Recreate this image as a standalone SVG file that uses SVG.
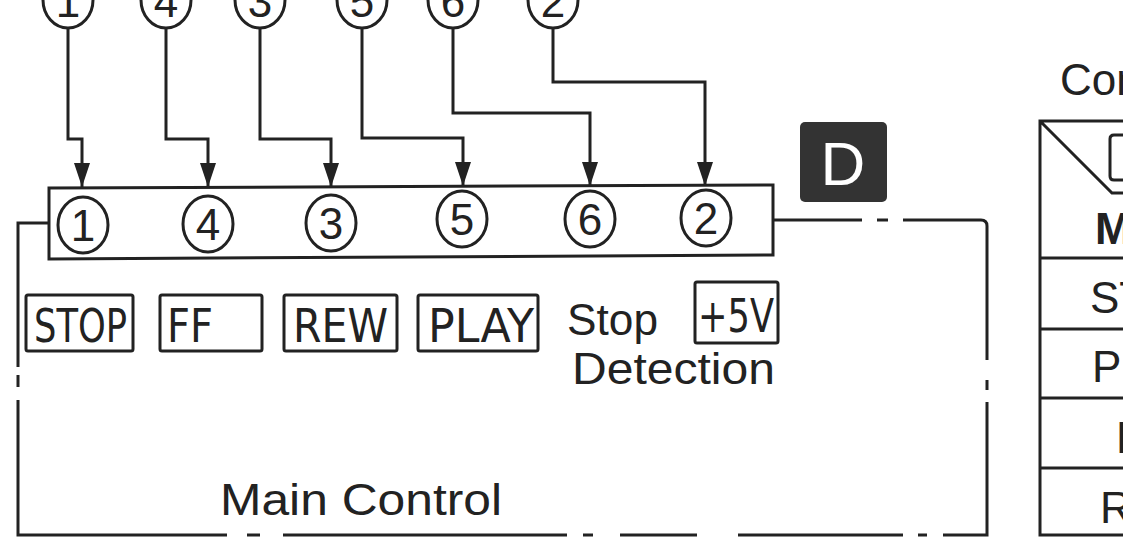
<svg xmlns="http://www.w3.org/2000/svg" width="1123" height="540" viewBox="0 0 1123 540">
<style>
.ln{fill:none;stroke:#222;stroke-width:3;stroke-linecap:butt;stroke-linejoin:miter}
.bx{fill:none;stroke:#222;stroke-width:3}
.cir{fill:#fff;stroke:#222;stroke-width:3}
.dg{font-family:"Liberation Sans",Arial,sans-serif;font-size:44px;fill:#222;text-anchor:middle}
.btn{font-family:"DejaVu Sans Condensed","Liberation Sans",sans-serif;font-size:46px;fill:#222}
.lbl{font-family:"Liberation Sans",Arial,sans-serif;font-size:44px;fill:#222}
</style>
<defs>
<marker id="ah" viewBox="0 0 24 16" refX="24" refY="8" markerWidth="24" markerHeight="16" markerUnits="userSpaceOnUse" orient="auto">
<path d="M0,0 L24,8 L0,16 z" fill="#222"/>
</marker>
</defs>
<rect width="1123" height="540" fill="#fff"/>

<g id="top-terminals">
<ellipse class="cir" cx="68" cy="0" rx="25" ry="28"/><text class="dg" x="68" y="17">1</text>
<ellipse class="cir" cx="166" cy="0" rx="25" ry="28"/><text class="dg" x="166" y="17">4</text>
<ellipse class="cir" cx="260" cy="0" rx="25" ry="28"/><text class="dg" x="260" y="17">3</text>
<ellipse class="cir" cx="362" cy="0" rx="25" ry="28"/><text class="dg" x="362" y="17">5</text>
<ellipse class="cir" cx="453" cy="0" rx="25" ry="28"/><text class="dg" x="453" y="17">6</text>
<ellipse class="cir" cx="553" cy="0" rx="25" ry="28"/><text class="dg" x="553" y="17">2</text>
</g>

<g id="connectors">
<path class="ln" d="M68,28 V139 H82 V187" marker-end="url(#ah)"/>
<path class="ln" d="M166,28 V139 H208 V187" marker-end="url(#ah)"/>
<path class="ln" d="M260,28 V139 H331 V187" marker-end="url(#ah)"/>
<path class="ln" d="M362,28 V138 H463 V186" marker-end="url(#ah)"/>
<path class="ln" d="M453,28 V113 H590 V186" marker-end="url(#ah)"/>
<path class="ln" d="M553,28 V82 H705 V186" marker-end="url(#ah)"/>
</g>

<g id="connector-block">
<polygon class="bx" points="49,188 773,185 773,255 49,259"/>
<ellipse class="cir" cx="83" cy="225" rx="25" ry="28"/><text class="dg" x="83" y="241">1</text>
<ellipse class="cir" cx="208" cy="224" rx="25" ry="28"/><text class="dg" x="208" y="240">4</text>
<ellipse class="cir" cx="331" cy="223" rx="25" ry="28"/><text class="dg" x="331" y="239">3</text>
<ellipse class="cir" cx="462" cy="219" rx="25" ry="28"/><text class="dg" x="462" y="235">5</text>
<ellipse class="cir" cx="590" cy="219" rx="25" ry="28"/><text class="dg" x="590" y="235">6</text>
<ellipse class="cir" cx="706" cy="218" rx="25" ry="28"/><text class="dg" x="706" y="234">2</text>
</g>

<g id="main-control">
<path class="ln" d="M49,223 H18 V367 M18,375 V387 M18,400 V535 H227 M247,535 H260 M283,535 H567 M583,535 H593 M620,535 H697 M738,535 H903 M918,535 H927 M943,535 H987 V402 M987,390 V380 M987,360 V226 Q987,220 981,220 H903 M888,220 H877 M862,220 H773"/>
<text class="lbl" x="220" y="515" textLength="282" lengthAdjust="spacingAndGlyphs">Main Control</text>
</g>

<g id="btn-stop"><rect class="bx" x="26" y="295" width="107" height="56" rx="2"/><text class="btn" x="34" y="342" textLength="93" lengthAdjust="spacingAndGlyphs">STOP</text></g>
<g id="btn-ff"><rect class="bx" x="160" y="295" width="102" height="56" rx="2"/><text class="btn" x="167" y="342" textLength="46" lengthAdjust="spacingAndGlyphs">FF</text></g>
<g id="btn-rew"><rect class="bx" x="284" y="295" width="113" height="56" rx="2"/><text class="btn" x="293" y="342" textLength="95" lengthAdjust="spacingAndGlyphs">REW</text></g>
<g id="btn-play"><rect class="bx" x="418" y="295" width="120" height="56" rx="2"/><text class="btn" x="428" y="342" textLength="106" lengthAdjust="spacingAndGlyphs">PLAY</text></g>
<g id="stop-detection">
<text class="lbl" x="567" y="335" textLength="91" lengthAdjust="spacingAndGlyphs">Stop</text>
<text class="lbl" x="572" y="384" textLength="203" lengthAdjust="spacingAndGlyphs">Detection</text>
</g>
<g id="btn-5v"><rect class="bx" x="695" y="282" width="83" height="61" rx="2"/><text class="btn" x="698" y="332" textLength="76" lengthAdjust="spacingAndGlyphs">+5V</text></g>

<g id="label-d">
<rect x="800" y="122" width="87" height="80" rx="5" fill="#333"/>
<text x="843" y="185" font-family="Liberation Sans,Arial,sans-serif" font-size="62" fill="#fff" text-anchor="middle">D</text>
</g>

<g id="table">
<text class="lbl" x="1060" y="95" font-size="42">Con</text>
<path class="ln" d="M1123,121 H1040 V535 H1123 M1040,258 H1123 M1040,329 H1123 M1040,398 H1123 M1040,468 H1123 M1040,121 L1112,193 H1123 M1123,135 H1114 Q1110,135 1110,139 V176 Q1110,180 1114,180 H1123"/>
<text class="lbl" x="1095" y="244" font-size="32" font-weight="bold">M</text>
<text class="lbl" x="1090" y="313">ST</text>
<text class="lbl" x="1092" y="382">P</text>
<text class="lbl" x="1116" y="453">FF</text>
<text class="lbl" x="1100" y="523">R</text>
</g>
</svg>
